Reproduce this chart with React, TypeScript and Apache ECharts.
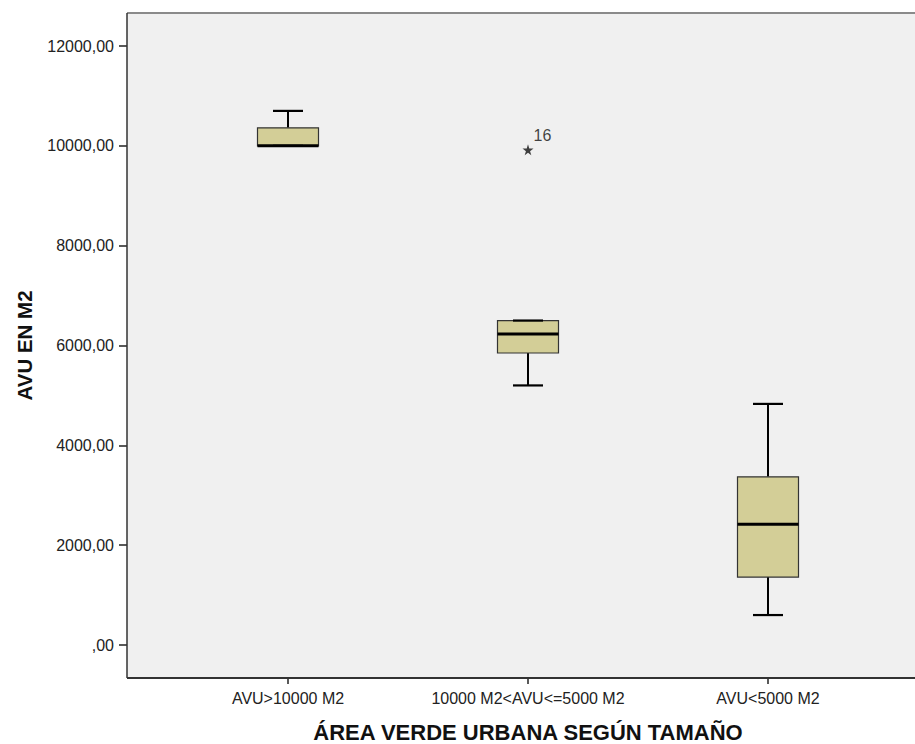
import React, { useEffect, useRef } from "react";
import * as echarts from "echarts";

const categories = ["AVU>10000 M2", "10000 M2<AVU<=5000 M2", "AVU<5000 M2"];
// [min, Q1, median, Q3, max]
const boxMin = [10000, 5200, 600];
const boxQ1 = [10000, 5850, 1360];
const boxMedian = [10000, 6230, 2420];
const boxQ3 = [10360, 6500, 3370];
const boxMax = [10700, 6500, 4830];
const outlierCategory = [1];
const outlierValue = [9920];
const outlierLabel = ["16"];
const yTicks = [0, 2000, 4000, 6000, 8000, 10000, 12000];

const FONT = "'Liberation Sans', Arial, sans-serif";
const STAR =
  "path://M50,0 L61,35 L98,35 L68,57 L79,91 L50,70 L21,91 L32,57 L2,35 L39,35 Z";

// plot frame (decoration)
const FRAME_L = 127;
const FRAME_T = 13;
const FRAME_B = 678;
const FRAME_R = 930;

export default function App() {
  const ref = useRef<HTMLDivElement>(null);
  useEffect(() => {
    if (!ref.current) return;
    const chart = echarts.init(ref.current, null, { renderer: "svg" });
    const boxData = categories.map((_, i) => [
      i,
      boxMin[i],
      boxQ1[i],
      boxMedian[i],
      boxQ3[i],
      boxMax[i],
    ]);
    const outData = outlierCategory.map((c, i) => ({
      value: [c, outlierValue[i]],
      name: outlierLabel[i],
    }));
    const option: any = {
      animation: false,
      backgroundColor: "#ffffff",
      graphic: [
        {
          type: "rect",
          z: -10,
          silent: true,
          shape: { x: FRAME_L, y: FRAME_T, width: FRAME_R - FRAME_L, height: FRAME_B - FRAME_T },
          style: { fill: "#f0f0f0" },
        },
        {
          type: "line",
          z: 10,
          silent: true,
          shape: { x1: FRAME_L, y1: FRAME_T, x2: FRAME_R, y2: FRAME_T },
          style: { stroke: "#8a8a8a", lineWidth: 2 },
        },
        {
          type: "line",
          z: 10,
          silent: true,
          shape: { x1: FRAME_L, y1: FRAME_T, x2: FRAME_L, y2: FRAME_B },
          style: { stroke: "#333", lineWidth: 1.5 },
        },
        {
          type: "line",
          z: 10,
          silent: true,
          shape: { x1: FRAME_L, y1: FRAME_B, x2: FRAME_R, y2: FRAME_B },
          style: { stroke: "#333", lineWidth: 2 },
        },
      ],
      grid: [
        {
          left: 168,
          width: 720,
          top: 46,
          height: 599,
          show: false,
          outerBoundsMode: "none",
          containLabel: false,
        },
      ],
      xAxis: [
        {
          type: "category",
          data: categories,
          offset: 33,
          name: "ÁREA VERDE URBANA SEGÚN TAMAÑO",
          nameLocation: "middle",
          nameGap: 43,
          nameTextStyle: {
            fontFamily: FONT,
            fontWeight: "bold",
            fontSize: 22,
            color: "#111",
          },
          axisLine: { show: false, onZero: false },
          axisTick: {
            show: true,
            alignWithLabel: true,
            length: 6,
            lineStyle: { color: "#222", width: 1.5 },
          },
          axisLabel: {
            interval: 0,
            hideOverlap: false,
            margin: 12,
            fontFamily: FONT,
            fontSize: 16,
            color: "#222",
          },
          splitLine: { show: false },
        },
      ],
      yAxis: [
        {
          type: "value",
          min: 0,
          max: 12000,
          interval: 2000,
          offset: 41,
          name: "AVU EN M2",
          nameLocation: "middle",
          nameGap: 92,
          nameTextStyle: {
            fontFamily: FONT,
            fontWeight: "bold",
            fontSize: 20.5,
            color: "#111",
          },
          axisLine: { show: false },
          axisTick: {
            show: true,
            length: 8,
            lineStyle: { color: "#222", width: 1.5 },
          },
          axisLabel: {
            margin: 13,
            fontFamily: FONT,
            fontSize: 16,
            color: "#222",
            customValues: yTicks,
            formatter: (v: number) => (v === 0 ? ",00" : `${v},00`),
          },
          splitLine: { show: false },
        },
      ],
      series: [
        {
          type: "custom",
          data: boxData,
          encode: { x: 0, y: [1, 2, 3, 4, 5] },
          renderItem: (params: any, api: any) => {
            const idx = api.value(0);
            const pMin = api.coord([idx, api.value(1)]);
            const pQ1 = api.coord([idx, api.value(2)]);
            const pMed = api.coord([idx, api.value(3)]);
            const pQ3 = api.coord([idx, api.value(4)]);
            const pMax = api.coord([idx, api.value(5)]);
            const cx = pMed[0];
            const hw = 30.5;
            const cap = 15;
            const line = (x1: number, y1: number, x2: number, y2: number, w: number) => ({
              type: "line",
              shape: { x1, y1, x2, y2 },
              style: { stroke: "#000", lineWidth: w },
            });
            return {
              type: "group",
              children: [
                line(cx, pMax[1], cx, pQ3[1], 2),
                line(cx, pQ1[1], cx, pMin[1], 2),
                {
                  type: "rect",
                  shape: { x: cx - hw, y: pQ3[1], width: hw * 2, height: pQ1[1] - pQ3[1] },
                  style: { fill: "#d3ce97", stroke: "#333", lineWidth: 1.2 },
                },
                line(cx - hw, pMed[1], cx + hw, pMed[1], 3),
                line(cx - cap, pMax[1], cx + cap, pMax[1], 2.2),
                line(cx - cap, pMin[1], cx + cap, pMin[1], 2.2),
              ],
            };
          },
        },
        {
          type: "scatter",
          data: outData,
          symbol: STAR,
          symbolSize: 11,
          itemStyle: { color: "#111" },
          label: {
            show: true,
            formatter: (p: any) => p.name,
            position: [11, -9],
            align: "left",
            verticalAlign: "middle",
            fontFamily: FONT,
            fontSize: 16,
            color: "#111",
            textBorderWidth: 0,
          },
        },
      ],
    };
    chart.setOption(option);
    return () => chart.dispose();
  }, []);
  return (
    <div
      ref={ref}
      style={{ position: "absolute", left: 0, top: 0, width: 915, height: 744 }}
    />
  );
}
